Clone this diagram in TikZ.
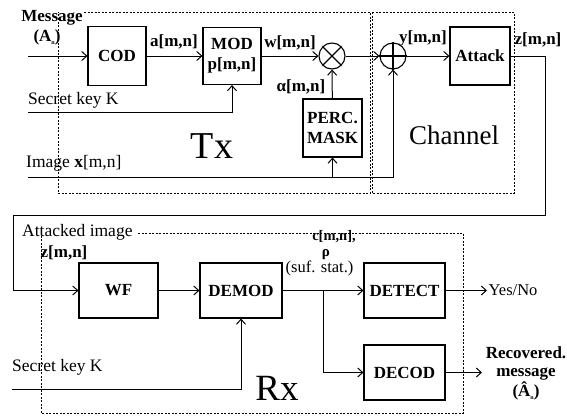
\documentclass[tikz,border=0pt]{standalone}
\usepackage{fontspec}
\setmainfont{Liberation Serif}
\usetikzlibrary{arrows.meta,calc}
\newcommand{\lblsize}{\fontsize{17}{20}\selectfont}
\newcommand{\regsize}{\fontsize{17.5}{20}\selectfont}
\newcommand{\tinysub}[1]{\raisebox{-3pt}{\fontsize{6}{6}\selectfont #1}}
\begin{document}
\begin{tikzpicture}[x=1pt,y=-1pt,
 blk/.style={draw,line width=1.1pt,inner sep=0pt,align=center,font=\lblsize\bfseries},
 conn/.style={line width=1pt,-{Straight Barb[length=5pt,width=9pt]}},
 region/.style={line width=0.6pt,dash pattern=on 2pt off 1.5pt},
 txt/.style={inner sep=0pt,font=\regsize},
 btxt/.style={inner sep=0pt,font=\lblsize\bfseries},
 junc/.style={draw,circle,line width=1.1pt,minimum size=26pt,inner sep=0pt}]
\useasboundingbox (0,0) rectangle (567,415);
% regions
\draw[region] (84,12) -- (370,12) -- (370,193) -- (58,193) -- (58,12);
\draw[region] (372,12) rectangle (514,193);
\draw[region] (138,233) -- (463,233) -- (463,413) -- (41,413) -- (41,233);
% Tx blocks
\node[blk,minimum width=58pt,minimum height=59pt] (cod) at (117,56) {COD};
\node[blk,minimum width=58pt,minimum height=57pt] (mod) at (232,56) {MOD\\p[m,n]};
\node[junc] (mult) at (332,56) {};
\draw[line width=1.1pt] (mult.north east) -- (mult.south west) (mult.north west) -- (mult.south east);
\node[junc] (add) at (393,56) {};
\draw[line width=1.1pt] (add.north) -- (add.south) (add.west) -- (add.east);
\node[blk,minimum width=59pt,minimum height=58pt] (perc) at (332.5,128) {PERC.\\MASK};
\node[blk,minimum width=60pt,minimum height=58pt] (attack) at (480,56) {Attack};
% Rx blocks
\node[blk,minimum width=79pt,minimum height=55pt] (wf) at (118.5,290.5) {WF};
\node[blk,minimum width=82pt,minimum height=55pt] (demod) at (241,290.5) {DEMOD};
\node[blk,minimum width=81pt,minimum height=55pt] (detect) at (404.5,290.5) {DETECT};
\node[blk,minimum width=81pt,minimum height=55pt] (decod) at (404.5,372.5) {DECOD};
% coordinates
\coordinate (msgin) at (28,56);
\coordinate (keyin) at (28,112);
\coordinate (imgin) at (28,177);
\coordinate (fb1) at (545,215);
\coordinate (fb2) at (13,215);
\coordinate (br) at (323,290.5);
\coordinate (rkey) at (12,389);
\coordinate (yn) at (487,290.5);
\coordinate (rec) at (482,372.5);
% Tx connectors
\draw[conn] (msgin) -- (cod);
\draw[conn] (cod) -- (mod);
\draw[conn] (mod) -- (mult);
\draw[conn] (mult) -- (add);
\draw[conn] (add) -- (attack);
\draw[conn] (perc) -- (mult);
\draw[conn] (keyin) -| (mod.south);
\draw[conn] (imgin) -| (add.south);
\draw[conn] (perc.south |- imgin) -- (perc.south);
% feedback
\draw[conn] (attack.east) -- (attack.east -| fb1) -- (fb1) -- (fb2) -- (fb2 |- wf) -- (wf.west);
% Rx connectors
\draw[conn] (wf) -- (demod);
\draw[conn] (demod) -- (detect);
\draw[conn] (br) |- (decod.west);
\draw[conn] (rkey) -| (demod.south);
\draw[conn] (detect) -- (yn);
\draw[conn] (decod) -- (rec);
% labels
\node[btxt] (lmsg) at (52,18) {Message};
\node[btxt] (lA) at (47,37) {(A\tinysub{n})};
\node[btxt] (la) at (174,42) {a[m,n]};
\node[btxt] (lw) at (290,43) {w[m,n]};
\node[btxt] (lal) at (301,87) {α[m,n]};
\node[btxt] (ly) at (423,38) {y[m,n]};
\node[btxt] (lz) at (538,40) {z[m,n]};
\node[txt,anchor=west] (lkey) at (28,100) {Secret key K};
\node[txt,anchor=west] (limg) at (26,163) {Image \textbf{x}[m,n]};
\node[txt,font=\fontsize{38}{40}\selectfont] (ltx) at (212,146) {Tx};
\node[txt,font=\fontsize{27}{30}\selectfont] (lch) at (454,135) {Channel};
\node[txt,anchor=west] (latt) at (22,232) {Attacked image};
\node[btxt] (lz2) at (64,253) {z[m,n]};
\node[btxt,font=\fontsize{14.5}{16}\selectfont\bfseries] (lc) at (334,237) {c[m,n],};
\node[btxt,font=\fontsize{15}{16}\selectfont\bfseries] (lrho) at (326,255) {ρ};
\node[txt,font=\fontsize{16.5}{17}\selectfont] (lsuf) at (319.5,268.5) {(suf. stat.)};
\node[txt,anchor=west] (lkey2) at (12,367) {Secret key K};
\node[txt,font=\fontsize{37}{40}\selectfont] (lrx) at (277,388) {Rx};
\node[txt,anchor=west,xshift=1.5pt,font=\fontsize{16.5}{18}\selectfont] (lyn) at (yn) {Yes/No};
\node[btxt,align=center,font=\fontsize{17}{18.5}\selectfont\bfseries] (lrec) at (526,373) {Recovered.\\message\\(Â\tinysub{n})};
\end{tikzpicture}
\end{document}
